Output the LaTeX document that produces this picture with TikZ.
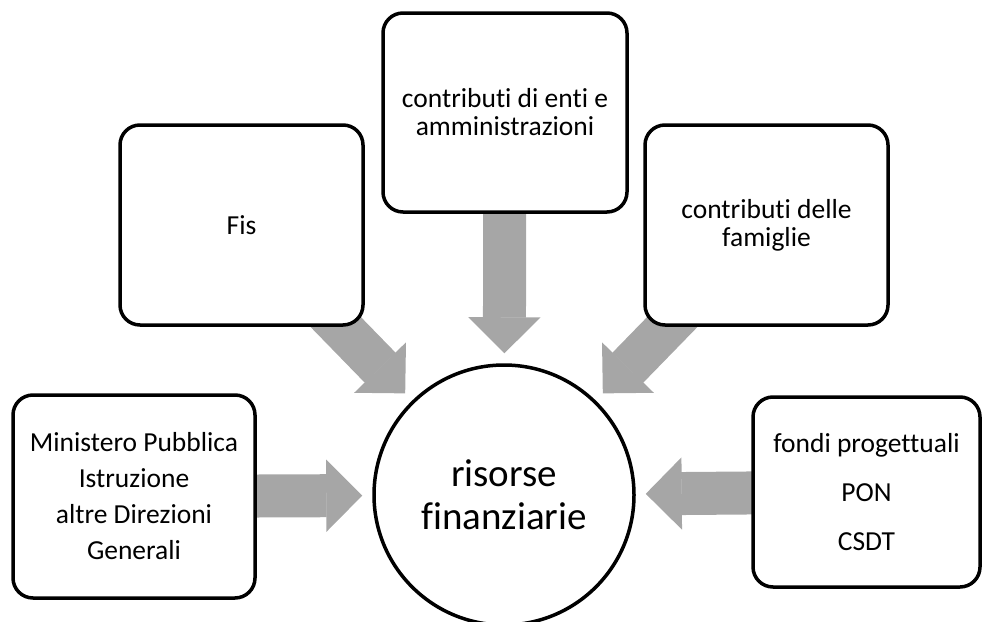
\documentclass[tikz,border=0pt]{standalone}
\usepackage{fontspec}
\setmainfont{Carlito}[Ligatures={NoCommon,NoRare,NoContextual}]
\usepackage{tikz}
\usetikzlibrary{arrows.meta}
\usetikzlibrary{backgrounds}

\definecolor{freccia}{RGB}{166,166,166}

\tikzset{
  box/.style={draw, line width=3.5pt, rounded corners=20pt, fill=white, align=center, inner sep=0pt},
  testo/.style={font=\fontsize{27.5}{#1}\selectfont},
  ris/.style={draw, circle, line width=3.5pt, fill=white, minimum size=260pt, inner sep=0pt, align=center, font=\fontsize{39}{43}\selectfont},
  flow/.style={draw=freccia, line width=43pt, -{Triangle[width=72pt,length=36pt,line width=1.5pt]}, shorten >=10pt, shorten <=-40pt}
}

\begin{document}
\begin{tikzpicture}[x=1pt,y=-1pt]
        \useasboundingbox (0,0) rectangle (982,621);
        \node[ris] (ris) at (504,495) {risorse\\finanziarie};
        \node[box, testo=36, minimum width=242pt, minimum height=203pt] (mpi) at (134,496.5) {Ministero Pubblica\\Istruzione\\altre Direzioni\\Generali};
        \node[box, testo=28, minimum width=243pt, minimum height=200pt] (fis) at (241.5,225) {Fis};
        \node[box, testo=28, minimum width=244pt, minimum height=199pt] (cde) at (505,112.5) {contributi di enti e\\amministrazioni};
        \node[box, testo=28, minimum width=243pt, minimum height=200pt] (fam) at (766.5,225) {contributi delle\\famiglie};
        \node[box, testo=49, minimum width=227pt, minimum height=190pt] (fpr) at (866.5,492) {fondi progettuali\\PON\\CSDT};
        \begin{scope}[on background layer]
            \draw[flow] (mpi) -- (ris);
            \draw[flow] (fis) -- (ris);
            \draw[flow] (cde) -- (ris);
            \draw[flow] (fam) -- (ris);
            \draw[flow] (fpr) -- (ris);
          \end{scope}
      \end{tikzpicture}
\end{document}
